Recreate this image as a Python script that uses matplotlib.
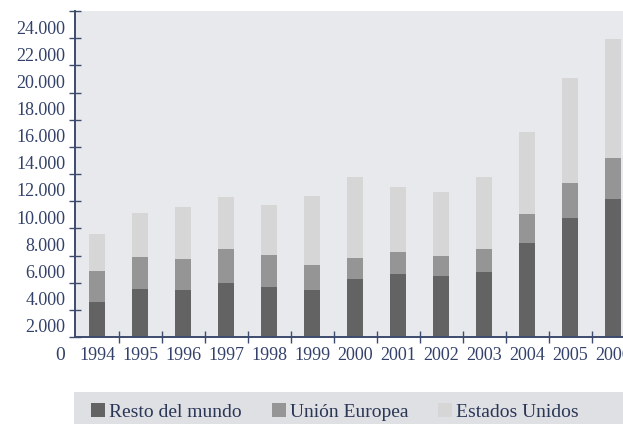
import numpy as np
import matplotlib
matplotlib.use("Agg")
import matplotlib.pyplot as plt
import matplotlib.transforms as mtransforms
from matplotlib.patches import Patch, Rectangle

# data
years = ["1994", "1995", "1996", "1997", "1998", "1999", "2000",
         "2001", "2002", "2003", "2004", "2005", "2006"]
resto_mundo = [2580, 3530, 3460, 3980, 3680, 3460, 4270, 4640, 4490, 4790, 6920, 8760, 10160]
union_europea = [2280, 2360, 2280, 2500, 2360, 1840, 1550, 1620, 1470, 1690, 2140, 2580, 3020]
estados_unidos = [2720, 3240, 3830, 3830, 3680, 5080, 5960, 4790, 4710, 5300, 6040, 7730, 8760]
series_names = ["Resto del mundo", "Unión Europea", "Estados Unidos"]
y_ticks = list(range(0, 24001, 2000))
y_labels = ["0"] + [f"{v // 1000}.000" for v in y_ticks[1:]]

colors = ["#636363", "#959595", "#d6d6d6"]
navy = "#33416a"
axis_col = "#3d4b6d"

plt.rcParams["font.family"] = ["Liberation Serif", "DejaVu Serif"]

fig = plt.figure(figsize=(6.23, 4.24), dpi=100)
ax = fig.add_axes([75 / 623, 87 / 424, 548 / 623, 326 / 424])
ax.set_facecolor("#e8e9ed")

x = np.arange(len(years))
w = 0.37
b1 = np.array(resto_mundo)
b2 = b1 + np.array(union_europea)
ax.bar(x, resto_mundo, w, color=colors[0], zorder=2)
ax.bar(x, union_europea, w, bottom=b1, color=colors[1], zorder=2)
ax.bar(x, estados_unidos, w, bottom=b2, color=colors[2], zorder=2)

ax.set_xlim(-0.512, 12.23)
ax.set_ylim(0, 24000)

for s in ["top", "right"]:
    ax.spines[s].set_visible(False)
for s in ["left", "bottom"]:
    ax.spines[s].set_color(axis_col)
    ax.spines[s].set_linewidth(1.4)

# y axis: ticks crossing the axis, labels sit a bit lower than the marks
ax.set_yticks(y_ticks)
ax.set_yticklabels(y_labels)
ax.tick_params(axis="y", direction="inout", length=8, width=1, color=axis_col,
               labelcolor=navy, labelsize=13, pad=3)
off = mtransforms.ScaledTranslation(0, -16 / 100, fig.dpi_scale_trans)
for lab in ax.get_yticklabels():
    lab.set_transform(lab.get_transform() + off)
ax.get_yticklabels()[0].set_fontsize(14)

# x axis: labels under the bars, marks between them
ax.set_xticks(x)
ax.set_xticklabels(years)
ax.set_xticks(x[:-1] + 0.5, minor=True)
ax.tick_params(axis="x", which="major", length=0, labelcolor=navy, labelsize=13, pad=7)
ax.tick_params(axis="x", which="minor", direction="inout", length=8, width=1, color=axis_col)

# legend band
fig.patches.append(Rectangle((74 / 623, 0), 549 / 623, 32 / 424, transform=fig.transFigure,
                             facecolor="#dfe0e4", edgecolor="none", zorder=0))
handles = [Patch(facecolor=c, edgecolor="none") for c in colors]
leg = fig.legend(handles, series_names, ncol=3, loc="center left",
                 bbox_to_anchor=(91 / 623, 12 / 424), frameon=False,
                 prop={"size": 14}, handlelength=0.72, handleheight=0.72,
                 handletextpad=0.2, columnspacing=1.55, borderpad=0, borderaxespad=0)
for t in leg.get_texts():
    t.set_color("#2a3656")

fig.savefig("out.png", dpi=100)
